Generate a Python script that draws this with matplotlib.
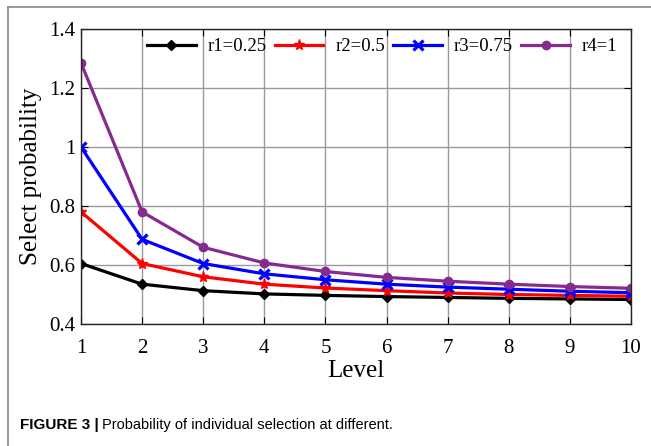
import matplotlib.pyplot as plt
from matplotlib.lines import Line2D

levels = [1, 2, 3, 4, 5, 6, 7, 8, 9, 10]
r1 = [0.605, 0.535, 0.513, 0.502, 0.497, 0.493, 0.490, 0.487, 0.485, 0.483]
r2 = [0.780, 0.605, 0.560, 0.535, 0.522, 0.513, 0.505, 0.500, 0.497, 0.494]
r3 = [1.000, 0.687, 0.605, 0.570, 0.550, 0.535, 0.525, 0.518, 0.511, 0.506]
r4 = [1.285, 0.780, 0.660, 0.607, 0.578, 0.558, 0.545, 0.535, 0.527, 0.521]
labels = ['r1=0.25', 'r2=0.5', 'r3=0.75', 'r4=1']
yticks = [0.4, 0.6, 0.8, 1.0, 1.2, 1.4]
yticklabels = ['0.4', '0.6', '0.8', '1', '1.2', '1.4']

plt.rcParams['font.family'] = ['Liberation Serif', 'DejaVu Serif']

fig = plt.figure(figsize=(6.51, 4.46), dpi=100)
ax = fig.add_axes([81/651, 1 - 324/446, 550/651, 295/446])

# series
ax.plot(levels, r1, color='black', lw=2.3, marker='D', ms=5, label=labels[0])
ax.plot(levels, r2, color='red', lw=2.3, marker='*', ms=8, label=labels[1])
ax.plot(levels, r3, color='blue', lw=2.3, marker='x', ms=7, mew=2.3, label=labels[2])
ax.plot(levels, r4, color='#862a90', lw=2.3, marker='o', ms=6, label=labels[3])

ax.set_xlim(1, 10)
ax.set_ylim(0.4, 1.4)
ax.set_xticks(levels)
ax.set_yticks(yticks)
ax.set_yticklabels(yticklabels)
ax.grid(True, color='#9a9a9a', lw=1.0)
ax.set_axisbelow(True)
ax.tick_params(direction='in', top=True, right=True, labelsize=15, length=5)
ax.tick_params(axis='x', pad=11)
ax.tick_params(axis='y', pad=4)
for s in ax.spines.values():
  s.set_color('#262626')
  s.set_linewidth(1.0)

ax.set_xlabel('Level', fontsize=18, labelpad=1)
ax.set_ylabel('Select probability', fontsize=18, labelpad=5)

leg = ax.legend(loc='upper left', ncol=4, frameon=False, fontsize=13.5,
                handlelength=2.6, columnspacing=0.45, handletextpad=0.62,
                borderaxespad=0, bbox_to_anchor=(0.106, 0.995))

# panel border (left and top)
fig.add_artist(Line2D([8/651, 8/651], [0, 1 - 7/446], transform=fig.transFigure, color='#888888', lw=1.2))
fig.add_artist(Line2D([8/651, 1], [1 - 7/446, 1 - 7/446], transform=fig.transFigure, color='#888888', lw=1.2))

# caption
t1 = fig.text(20/651, 1 - 425/446, 'FIGURE 3 |', fontsize=11, fontweight='bold',
              family='Liberation Sans', va='center')
fig.canvas.draw()
bb = t1.get_window_extent()
fig.text(bb.x1/fig.bbox.width + 3/651, 1 - 425/446, 'Probability of individual selection at different.',
         fontsize=10.5, family='Liberation Sans', va='center')

fig.savefig('out.png', dpi=100)
